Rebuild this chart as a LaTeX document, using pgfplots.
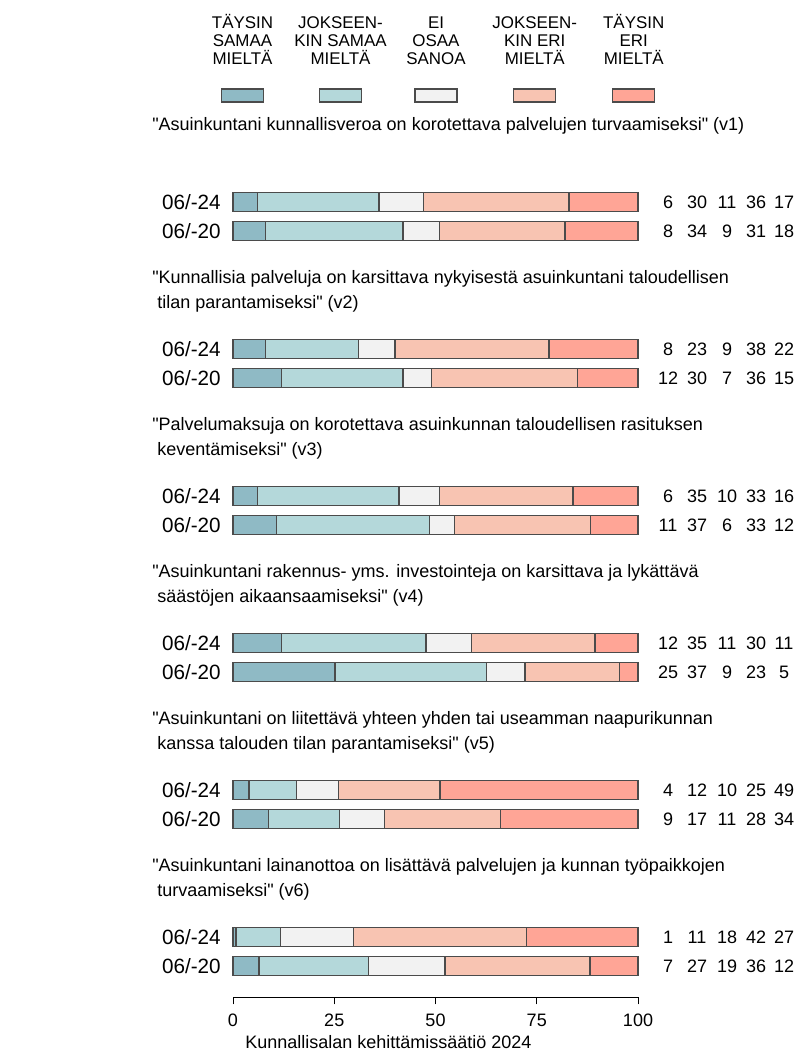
\documentclass[border=0pt]{standalone}
\usepackage{pgfplots}
\pgfplotsset{compat=1.18}
\usepackage{fontspec}
\setmainfont{Liberation Sans}[Ligatures=TeXOff]
\definecolor{c1}{RGB}{143,186,197}
\definecolor{c2}{RGB}{180,216,218}
\definecolor{c3}{RGB}{242,242,242}
\definecolor{c4}{RGB}{248,196,178}
\definecolor{c5}{RGB}{255,165,150}
\definecolor{bd}{RGB}{75,75,75}
\newcommand{\fs}{\fontsize{13.5pt}{18.75pt}\selectfont}
\newcommand{\rs}{\fontsize{15.5pt}{18.75pt}\selectfont}
\newcommand{\ls}{\fontsize{12.7pt}{13.7pt}\selectfont}
\begin{document}
\begin{tikzpicture}[x=0.75pt,y=0.75pt]
\useasboundingbox (0,0) rectangle (800,1059);
% legend
\foreach \cx/\col/\lab in {242.5/c1/{TÄYSIN\\SAMAA\\MIELTÄ},340.5/c2/{JOKSEEN-\\KIN SAMAA\\MIELTÄ},436/c3/{EI\\OSAA\\SANOA},534.7/c4/{JOKSEEN-\\KIN ERI\\MIELTÄ},633.7/c5/{TÄYSIN\\ERI\\MIELTÄ}}{
  \node[anchor=base,align=center,font=\ls,inner sep=0pt] at (\cx,1059-65) {\lab};
  \draw[bd,line width=1.05pt,fill=\col] (\cx-21,1059-89) rectangle (\cx+21,1059-102);
}
\begin{axis}[
  at={(174.75pt,46.5pt)}, anchor=south west,
  x=3.0375pt, y=0.75pt,
  xmin=0, xmax=100, ymin=62, ymax=1059,
  enlargelimits=false, clip=false,
  xbar stacked, bar width=14.25pt,
  axis x line*=bottom, axis y line=none,
  xtick={0,25,50,75,100},
  tick align=outside, major tick length=5.5pt,
  x axis line style={black, line width=0.6pt},
  xtick style={black, line width=0.6pt},
  ytick=\empty,
  /pgf/number format/assume math mode=true,
  xticklabel style={font=\fs, yshift=-3.5pt},
  every axis plot/.append style={draw=bd, line width=1.1pt},
]
\addplot[fill=c1] coordinates {(6,857) (8,828) (8,710) (12,681) (6,563) (10.8,534) (12.0,416) (25.2,387) (3.9,269) (8.8,240) (0.7,122) (6.4,93)};
\addplot[fill=c2] coordinates {(30,857) (34,828) (23,710) (30,681) (35,563) (37.7,534) (35.6,416) (37.4,387) (11.8,269) (17.5,240) (11.0,122) (27.1,93)};
\addplot[fill=c3] coordinates {(11,857) (9,828) (9,710) (7,681) (10,563) (6.2,534) (11.3,416) (9.5,387) (10.3,269) (11.1,240) (18.1,122) (18.9,93)};
\addplot[fill=c4] coordinates {(36,857) (31,828) (38,710) (36,681) (33,563) (33.6,534) (30.5,416) (23.3,387) (25.1,269) (28.6,240) (42.7,122) (35.8,93)};
\addplot[fill=c5] coordinates {(17,857) (18,828) (22,710) (15,681) (16,563) (11.7,534) (10.6,416) (4.6,387) (48.9,269) (34.0,240) (27.5,122) (11.8,93)};
\end{axis}
% row labels and numbers
\foreach \py/\lab/\a/\b/\c/\d/\e in {
 202/06\slash-24/6/30/11/36/17, 231/06\slash-20/8/34/9/31/18,
 349/06\slash-24/8/23/9/38/22, 378/06\slash-20/12/30/7/36/15,
 496/06\slash-24/6/35/10/33/16, 525/06\slash-20/11/37/6/33/12,
 643/06\slash-24/12/35/11/30/11, 672/06\slash-20/25/37/9/23/5,
 790/06\slash-24/4/12/10/25/49, 819/06\slash-20/9/17/11/28/34,
 937/06\slash-24/1/11/18/42/27, 966/06\slash-20/7/27/19/36/12}{
  \node[anchor=base east,font=\rs,inner sep=0pt] at (221,1059-\py-7.5) {\lab};
  \node[anchor=base,font=\fs,inner sep=0pt] at (668,1059-\py-6.5) {\a};
  \node[anchor=base,font=\fs,inner sep=0pt] at (697,1059-\py-6.5) {\b};
  \node[anchor=base,font=\fs,inner sep=0pt] at (727,1059-\py-6.5) {\c};
  \node[anchor=base,font=\fs,inner sep=0pt] at (756,1059-\py-6.5) {\d};
  \node[anchor=base,font=\fs,inner sep=0pt] at (784,1059-\py-6.5) {\e};
}
% titles
\tikzset{ttl/.style={anchor=base west,font=\fs,inner sep=0pt}}
\node[ttl] at (152,1059-131) {"Asuinkuntani kunnallisveroa on korotettava palvelujen turvaamiseksi" (v1)};
\node[ttl] at (152,1059-284) {"Kunnallisia palveluja on karsittava nykyisestä asuinkuntani taloudellisen};
\node[ttl] at (152,1059-309) {\ tilan parantamiseksi" (v2)};
\node[ttl] at (152,1059-431) {"Palvelumaksuja on korotettava asuinkunnan taloudellisen rasituksen};
\node[ttl] at (152,1059-456) {\ keventämiseksi" (v3)};
\node[ttl] at (152,1059-578) {"Asuinkuntani rakennus- yms. investointeja on karsittava ja lykättävä};
\node[ttl] at (152,1059-603) {\ säästöjen aikaansaamiseksi" (v4)};
\node[ttl] at (152,1059-725) {"Asuinkuntani on liitettävä yhteen yhden tai useamman naapurikunnan};
\node[ttl] at (152,1059-750) {\ kanssa talouden tilan parantamiseksi" (v5)};
\node[ttl] at (152,1059-872) {"Asuinkuntani lainanottoa on lisättävä palvelujen ja kunnan työpaikkojen};
\node[ttl] at (152,1059-897) {\ turvaamiseksi" (v6)};
% footer
\node[anchor=base west,font=\fs,inner sep=0pt] at (245,1059-1048) {Kunnallisalan kehittämissäätiö 2024};
\end{tikzpicture}
\end{document}
